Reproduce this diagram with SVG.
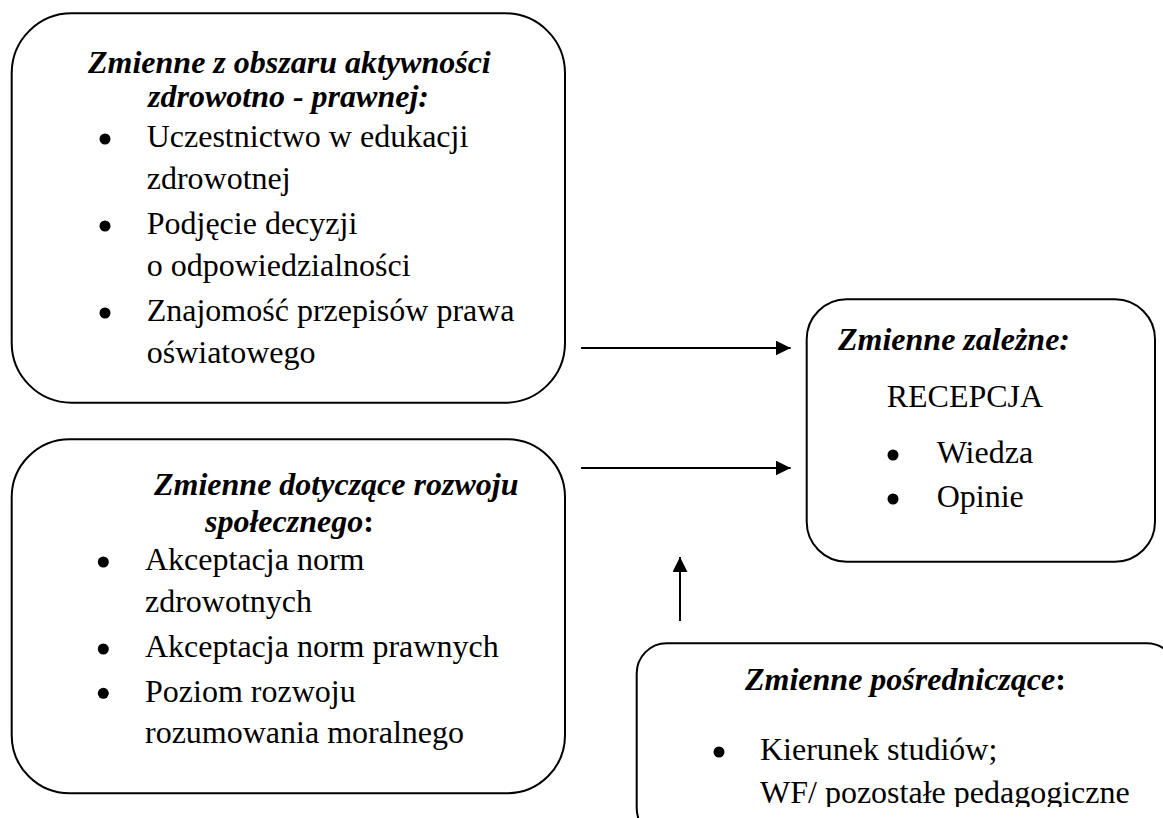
<svg xmlns="http://www.w3.org/2000/svg" width="1163" height="818" viewBox="0 0 1163 818">
<defs>
<style>
.box{fill:#fff;stroke:#000;stroke-width:2}
.t{font-family:"Liberation Serif","Times New Roman",serif;font-size:32px;fill:#000}
.h{font-family:"Liberation Serif","Times New Roman",serif;font-size:32px;font-weight:bold;font-style:italic;fill:#000}
.hb{font-style:normal}
.dot{fill:#000}
.conn{stroke:#000;stroke-width:2;fill:none}
</style>
<marker id="arr" markerUnits="userSpaceOnUse" markerWidth="16" markerHeight="16" refX="15" refY="7.5" orient="auto">
<path d="M0,0 L15,7.5 L0,15 Z" fill="#000"/>
</marker>
<clipPath id="clip4"><rect x="630" y="640" width="540" height="167"/></clipPath>
</defs>
<rect width="1163" height="818" fill="#fff"/>

<g id="node-aktywnosc">
<rect class="box" x="11.7" y="13.3" width="553.3" height="389.4" rx="60"/>
<text class="h" x="88" y="73">Zmienne z obszaru aktywności</text>
<text class="h" x="148" y="107">zdrowotno - prawnej:</text>
<circle class="dot" cx="105" cy="139" r="5.5"/>
<text class="t" x="146.7" y="147">Uczestnictwo w edukacji</text>
<text class="t" x="146.7" y="189">zdrowotnej</text>
<circle class="dot" cx="105" cy="226" r="5.5"/>
<text class="t" x="146.7" y="234">Podjęcie decyzji</text>
<text class="t" x="146.7" y="276">o odpowiedzialności</text>
<circle class="dot" cx="105" cy="313" r="5.5"/>
<text class="t" x="146.7" y="321">Znajomość przepisów prawa</text>
<text class="t" x="146.7" y="363">oświatowego</text>
</g>

<g id="node-rozwoj">
<rect class="box" x="11.7" y="439.3" width="553.3" height="354" rx="58"/>
<text class="h" x="154" y="495">Zmienne dotyczące rozwoju</text>
<text class="h" x="205" y="531.7">społecznego<tspan class="hb">:</tspan></text>
<circle class="dot" cx="103.3" cy="562" r="5.5"/>
<text class="t" x="145" y="569.7">Akceptacja norm</text>
<text class="t" x="145" y="611.7">zdrowotnych</text>
<circle class="dot" cx="103.3" cy="649" r="5.5"/>
<text class="t" x="145" y="656.7">Akceptacja norm prawnych</text>
<circle class="dot" cx="103.3" cy="693.3" r="5.5"/>
<text class="t" x="145" y="701.7">Poziom rozwoju</text>
<text class="t" x="145" y="743.3">rozumowania moralnego</text>
</g>

<g id="node-zalezne">
<rect class="box" x="806.7" y="299.3" width="348.3" height="262.4" rx="40"/>
<text class="h" x="838" y="350">Zmienne zależne:</text>
<text class="t" x="886.7" y="406.7">RECEPCJA</text>
<circle class="dot" cx="893" cy="455" r="5.5"/>
<text class="t" x="936.7" y="463">Wiedza</text>
<circle class="dot" cx="893" cy="499" r="5.5"/>
<text class="t" x="936.7" y="506.7">Opinie</text>
</g>

<g id="node-posredniczace">
<rect class="box" x="636.7" y="643.3" width="540" height="195" rx="30"/>
<g clip-path="url(#clip4)">
<text class="h" x="745" y="690">Zmienne pośredniczące<tspan class="hb">:</tspan></text>
<circle class="dot" cx="719" cy="752" r="5.5"/>
<text class="t" x="760" y="760">Kierunek studiów;</text>
<text class="t" x="760" y="803">WF/ pozostałe pedagogiczne</text>
</g>
</g>

<g id="connectors">
<line class="conn" x1="581" y1="348" x2="790.7" y2="348" marker-end="url(#arr)"/>
<line class="conn" x1="581" y1="468" x2="790.7" y2="468" marker-end="url(#arr)"/>
<line class="conn" x1="680" y1="621" x2="680" y2="557" marker-end="url(#arr)"/>
</g>
</svg>
